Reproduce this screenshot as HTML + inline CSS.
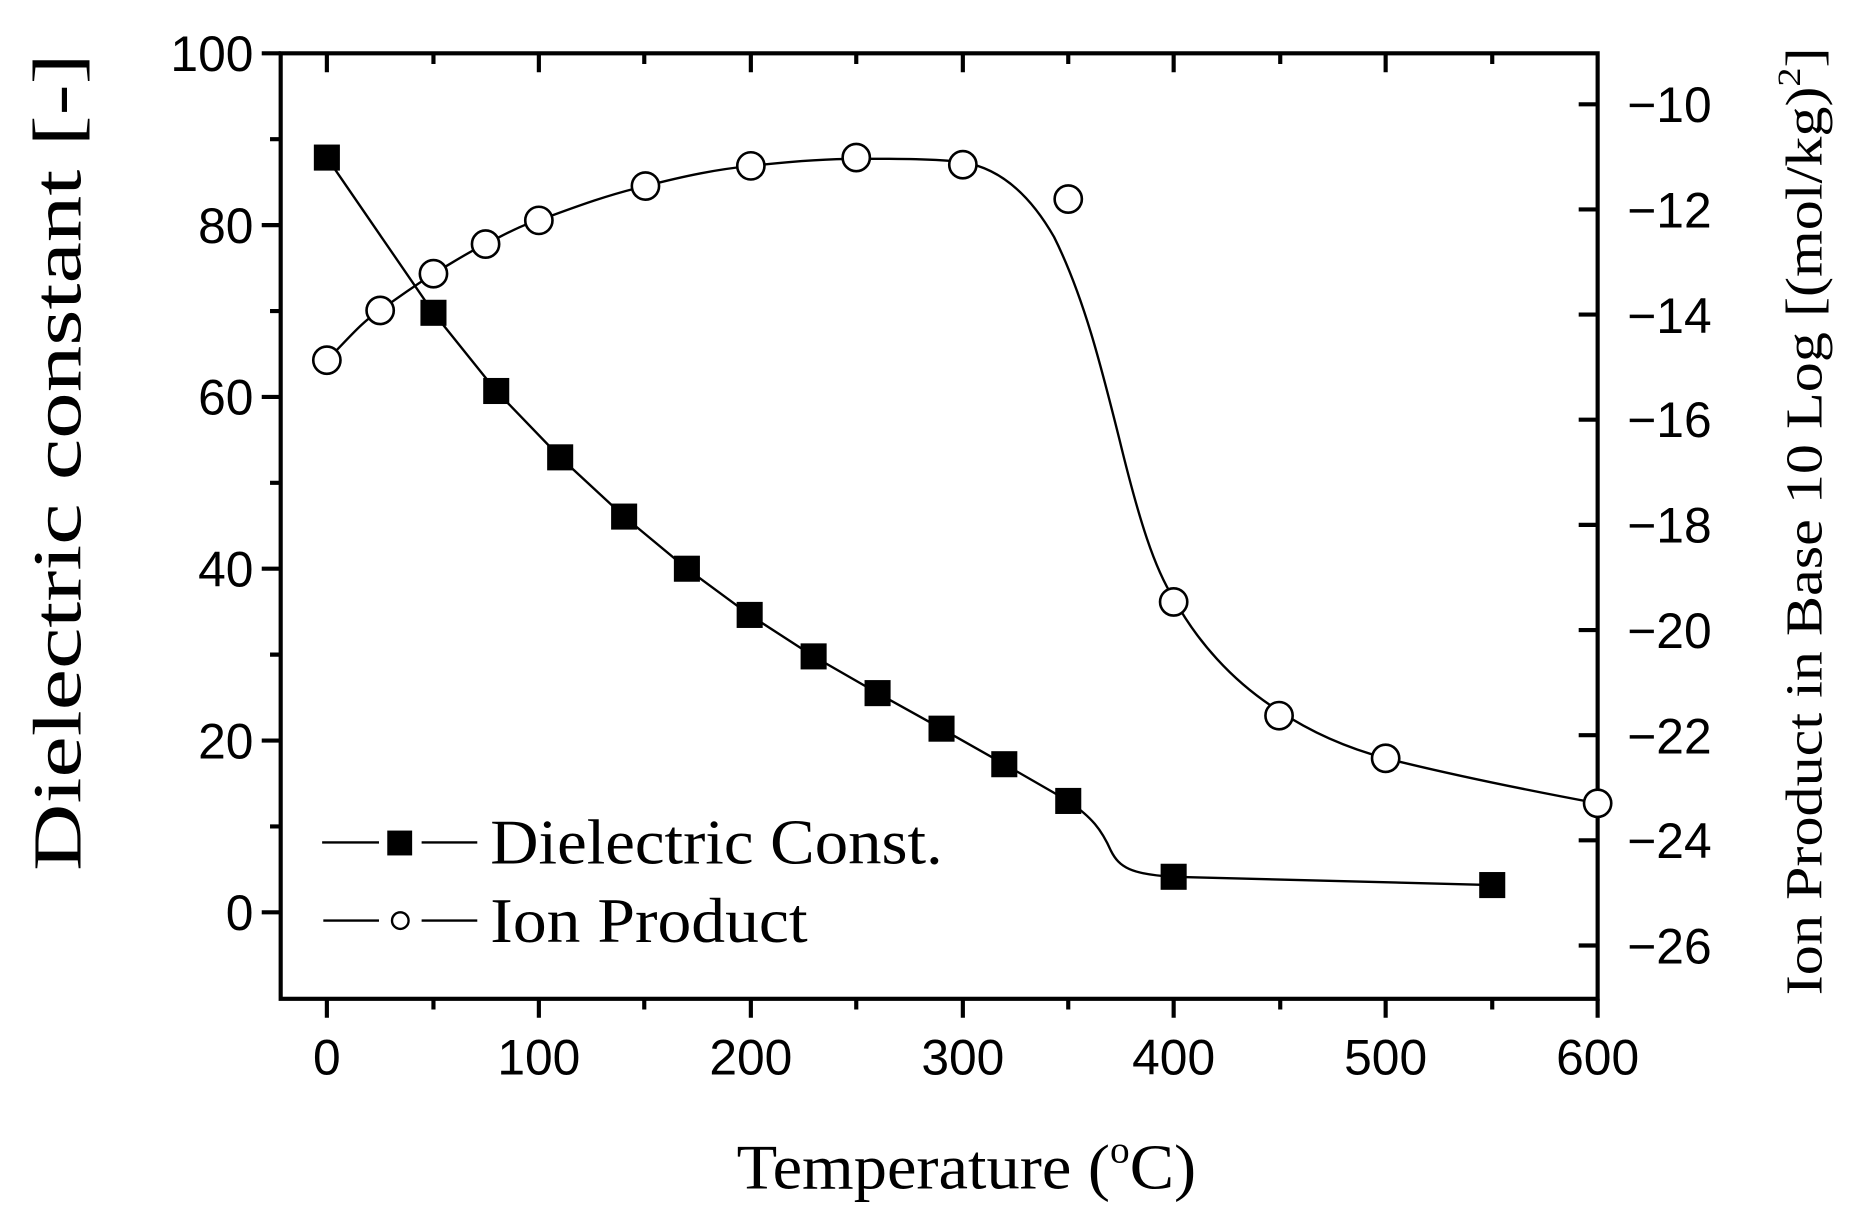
<!DOCTYPE html>
<html><head><meta charset="utf-8"><style>
html,body{margin:0;padding:0;background:#fff;}
svg{display:block;}
.t{font-family:"Liberation Sans",Arial,sans-serif;font-size:42px;fill:#000;}
.s{font-family:"Liberation Serif","Times New Roman",serif;fill:#000;}
</style></head><body>
<svg width="1857" height="1218" viewBox="0 0 1568 1028" preserveAspectRatio="none" xmlns="http://www.w3.org/2000/svg">
<rect width="1568" height="1028" fill="#fff"/>
<g stroke="#000" stroke-width="3.5" fill="none">
<rect x="237" y="45" width="1112" height="798"/>
<path d="M237 45h-16M237 190h-16M237 335h-16M237 480h-16M237 625h-16M237 770h-16
M237 117.5h-9M237 262.5h-9M237 407.5h-9M237 552.5h-9M237 697.5h-9"/>
<path d="M276 843v16M455 843v16M634 843v16M813 843v16M991 843v16M1170 843v16M1349 843v16
M366 843v9M544 843v9M723 843v9M902 843v9M1081 843v9M1260 843v9"/>
<path d="M276 45v16M455 45v16M634 45v16M813 45v16M991 45v16M1170 45v16
M366 45v9M544 45v9M723 45v9M902 45v9M1081 45v9M1260 45v9"/>
<path d="M1349 88h-16M1349 176.75h-16M1349 265.5h-16M1349 354.25h-16M1349 443h-16M1349 531.75h-16M1349 620.5h-16M1349 709.25h-16M1349 798h-16"/>
</g>
<g class="t" text-anchor="end">
<text x="214" y="60">100</text><text x="214" y="205">80</text><text x="214" y="350">60</text>
<text x="214" y="495">40</text><text x="214" y="640">20</text><text x="214" y="785">0</text>
</g>
<g class="t" text-anchor="middle">
<text x="276" y="907">0</text><text x="455" y="907">100</text><text x="634" y="907">200</text>
<text x="813" y="907">300</text><text x="991" y="907">400</text><text x="1170" y="907">500</text><text x="1349" y="907">600</text>
</g>
<g class="t">
<text x="1374" y="103">−10</text><text x="1374" y="192">−12</text><text x="1374" y="281">−14</text>
<text x="1374" y="369">−16</text><text x="1374" y="458">−18</text><text x="1374" y="547">−20</text>
<text x="1374" y="636">−22</text><text x="1374" y="724">−24</text><text x="1374" y="813">−26</text>
</g>
<text class="s" font-size="58" text-anchor="middle" textLength="690" lengthAdjust="spacingAndGlyphs" transform="translate(68,390) rotate(-90)">Dielectric constant [-]</text>
<text class="s" font-size="54" text-anchor="middle" x="816" y="1003" textLength="388" lengthAdjust="spacingAndGlyphs">Temperature (<tspan font-size="32" dy="-22">o</tspan><tspan dy="22">C)</tspan></text>
<text class="s" font-size="44" text-anchor="middle" textLength="800" lengthAdjust="spacingAndGlyphs" transform="translate(1538,440) rotate(-90)">Ion Product in Base 10 Log [(mol/kg)<tspan font-size="28" dy="-18">2</tspan><tspan dy="18">]</tspan></text>
<g stroke="#000" stroke-width="2" fill="none">
<path d="M276 133 L366 264 L419 330 L473 386 L527 436 L580 480 L633 519 L687 554 L741 585 L795 615 L848 645 L902 676 C922 690 930 700 938 718 C945 732 955 738 991 740 C1100 743 1200 746 1260 747"/>
<path d="M276 304 C295 285 305 272 321 262 C340 248 352 240 366 231 C385 220 395 213 410 206 C430 196 440 190 455 186 C490 173 515 164 545 157 C580 148 605 143 634 140 C670 136 700 134 723 134 C760 134 790 134 813 137 C845 142 870 165 890 200 C915 250 930 310 945 370 C962 440 975 480 991 505 C1010 540 1040 575 1080 600 C1110 620 1140 632 1170 640 C1230 655 1290 667 1349 678"/>
</g>
<g fill="#000">
<rect x="265" y="122" width="22" height="22"/><rect x="355" y="253" width="22" height="22"/>
<rect x="408" y="319" width="22" height="22"/><rect x="462" y="375" width="22" height="22"/>
<rect x="516" y="425" width="22" height="22"/><rect x="569" y="469" width="22" height="22"/>
<rect x="622" y="508" width="22" height="22"/><rect x="676" y="543" width="22" height="22"/>
<rect x="730" y="574" width="22" height="22"/><rect x="784" y="604" width="22" height="22"/>
<rect x="837" y="634" width="22" height="22"/><rect x="891" y="665" width="22" height="22"/>
<rect x="980" y="729" width="22" height="22"/><rect x="1249" y="736" width="22" height="22"/>
</g>
<g fill="#fff" stroke="#000" stroke-width="2.2">
<circle cx="276" cy="304" r="11.5"/><circle cx="321" cy="262" r="11.5"/><circle cx="366" cy="231" r="11.5"/>
<circle cx="410" cy="206" r="11.5"/><circle cx="455" cy="186" r="11.5"/><circle cx="545" cy="157" r="11.5"/>
<circle cx="634" cy="140" r="11.5"/><circle cx="723" cy="133" r="11.5"/><circle cx="813" cy="139" r="11.5"/>
<circle cx="902" cy="168" r="11.5"/><circle cx="991" cy="508" r="11.5"/><circle cx="1080" cy="604" r="11.5"/>
<circle cx="1170" cy="640" r="11.5"/><circle cx="1349" cy="678" r="11.5"/>
</g>
<g stroke="#000" stroke-width="2" fill="none">
<path d="M272 711h48M356 711h47M273 777h47M356 777h47"/>
</g>
<rect x="327" y="701" width="21" height="21" fill="#000"/>
<circle cx="338" cy="777" r="7" fill="#fff" stroke="#000" stroke-width="2"/>
<text class="s" font-size="54" x="414" y="729" textLength="382" lengthAdjust="spacingAndGlyphs">Dielectric Const.</text>
<text class="s" font-size="54" x="414" y="795" textLength="268" lengthAdjust="spacingAndGlyphs">Ion Product</text>
</svg>
</body></html>
